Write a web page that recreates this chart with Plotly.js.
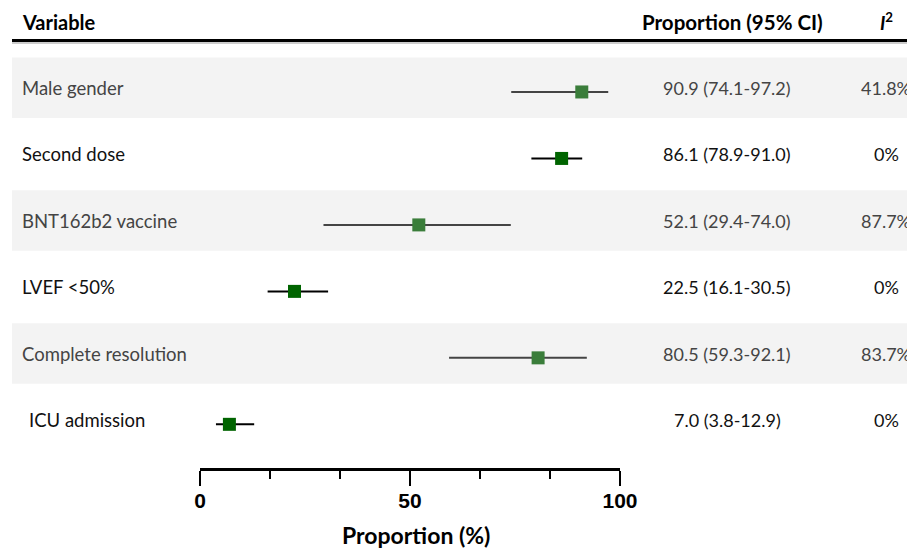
<!DOCTYPE html>
<html>
<head>
<meta charset="utf-8">
<script src="https://cdn.plot.ly/plotly-3.0.1.min.js"></script>
<style>html,body{margin:0;padding:0;background:#fff;}#chart{width:907px;height:550px;}</style>
</head>
<body>
<div id="chart"></div>
<script>
// ---- data ----
const variables = ["Male gender", "Second dose", "BNT162b2 vaccine", "LVEF <50%", "Complete resolution", "ICU admission"];
const estimate = [90.9, 86.1, 52.1, 22.5, 80.5, 7.0];
const lower = [74.1, 78.9, 29.4, 16.1, 59.3, 3.8];
const upper = [97.2, 91.0, 74.0, 30.5, 92.1, 12.9];
const ciLabels = ["90.9 (74.1-97.2)", "86.1 (78.9-91.0)", "52.1 (29.4-74.0)", "22.5 (16.1-30.5)", "80.5 (59.3-92.1)", "7.0 (3.8-12.9)"];
const i2Labels = ["41.8%", "0%", "87.7%", "0%", "83.7%", "0%"];
const shaded = [true, false, true, false, true, false];
const majorTicks = [0, 50, 100];
const majorTickText = ["0", "50", "100"];
const minorTicks = [100/6, 200/6, 400/6, 500/6];

// ---- geometry helpers (pixel -> paper) ----
const L = 200, R = 620, T = 57, B = 468;
const px = x => (x - L) / (R - L);
const py = y => (B - y) / (B - T);

const FONT = "Lato, 'Open Sans', sans-serif";
const traces = [];
const shapes = [];
const annotations = [];

variables.forEach((v, i) => {
  const sh = shaded[i];
  const lineCol = sh ? "#444444" : "#000000";
  const mkCol = sh ? "#3a7d3a" : "#006400";
  const txtCol = sh ? "#444444" : "#111111";
  traces.push({
    type: "scatter", mode: "markers",
    x: [estimate[i]], y: [i],
    marker: {symbol: "square", size: 13, color: mkCol, line: {width: 0}},
    error_x: {type: "data", symmetric: false,
      array: [upper[i] - estimate[i]], arrayminus: [estimate[i] - lower[i]],
      color: lineCol, thickness: 2, width: 0},
    showlegend: false, hoverinfo: "skip"
  });
  if (sh) {
    shapes.push({type: "rect", xref: "paper", yref: "y", layer: "below",
      x0: px(12), x1: px(910), y0: i - 0.52, y1: i + 0.39,
      fillcolor: "#f3f3f3", line: {width: 0}});
  }
  const lx = i === 5 ? 27 : 20;
  annotations.push({xref: "paper", yref: "y", x: px(lx), y: i, yshift: 4,
    xanchor: "left", yanchor: "middle", showarrow: false, text: v,
    font: {family: FONT, size: 18.5, color: txtCol}});
  annotations.push({xref: "paper", yref: "y", x: px(727), y: i, yshift: 4,
    xanchor: "center", yanchor: "middle", showarrow: false, text: ciLabels[i],
    font: {family: FONT, size: 18, color: txtCol}});
  annotations.push({xref: "paper", yref: "y", x: px(886), y: i, yshift: 4,
    xanchor: "center", yanchor: "middle", showarrow: false, text: i2Labels[i],
    font: {family: FONT, size: 18, color: txtCol}});
});

// header
annotations.push({xref: "paper", yref: "paper", x: px(20), y: py(22), xanchor: "left", yanchor: "middle",
  showarrow: false, text: "<b>Variable</b>", font: {family: FONT, size: 20, color: "#000"}});
annotations.push({xref: "paper", yref: "paper", x: px(732), y: py(22), xanchor: "center", yanchor: "middle",
  showarrow: false, text: "<b>Proportion (95% CI)</b>", font: {family: FONT, size: 20.5, color: "#000"}});
annotations.push({xref: "paper", yref: "paper", x: px(886), y: py(21), xanchor: "center", yanchor: "middle",
  showarrow: false, text: "<b><i>I</i><sup>2</sup></b>", font: {family: FONT, size: 19, color: "#000"}});
// axis title
annotations.push({xref: "paper", yref: "paper", x: px(416), y: py(535), xanchor: "center", yanchor: "middle",
  showarrow: false, text: "<b>Proportion (%)</b>", font: {family: FONT, size: 23, color: "#000"}});

// header rule
shapes.push({type: "line", xref: "paper", yref: "paper", x0: px(12), x1: px(910), y0: py(40.5), y1: py(40.5),
  line: {color: "#000", width: 3}});
shapes.push({type: "line", xref: "paper", yref: "paper", x0: px(12), x1: px(910), y0: py(43), y1: py(43),
  line: {color: "#999", width: 1}});

const layout = {
  width: 907, height: 550,
  margin: {l: L, r: 907 - R, t: T, b: 550 - B, pad: 0},
  paper_bgcolor: "#fff", plot_bgcolor: "rgba(0,0,0,0)",
  xaxis: {range: [0, 100], showgrid: false, zeroline: false, showline: true, linecolor: "#000", linewidth: 2.5,
    tickmode: "array", tickvals: majorTicks, ticktext: majorTickText.map(t => "<b>" + t + "</b>"),
    ticks: "outside", ticklen: 15, tickwidth: 2.5, tickcolor: "#000", ticklabelstandoff: -3,
    tickfont: {family: "'Liberation Sans', Arial, sans-serif", size: 21, color: "#000"},
    minor: {tickvals: minorTicks, ticks: "outside", ticklen: 8, tickwidth: 2, tickcolor: "#000", showgrid: false},
    fixedrange: true},
  yaxis: {range: [5.657, -0.526], visible: false, showgrid: false, zeroline: false, fixedrange: true},
  shapes: shapes, annotations: annotations, showlegend: false
};

Plotly.newPlot("chart", traces, layout, {displayModeBar: false, staticPlot: true});
</script>
</body>
</html>
